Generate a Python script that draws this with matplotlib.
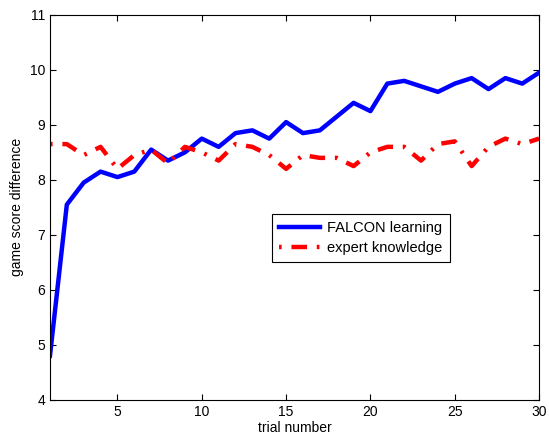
import numpy as np
import matplotlib
matplotlib.use("Agg")
import matplotlib.pyplot as plt

plt.rcParams['font.family'] = ['Liberation Sans', 'DejaVu Sans']

# data
percobaan = list(range(1, 31))
falcon = [4.8, 7.55, 7.95, 8.15, 8.05, 8.15, 8.55, 8.35, 8.5, 8.75,
          8.6, 8.85, 8.9, 8.75, 9.05, 8.85, 8.9, 9.15, 9.4, 9.25,
          9.75, 9.8, 9.7, 9.6, 9.75, 9.85, 9.65, 9.85, 9.75, 9.95]
pakar = [8.65, 8.65, 8.45, 8.6, 8.2, 8.45, 8.55, 8.3, 8.6, 8.5,
         8.35, 8.65, 8.6, 8.45, 8.2, 8.45, 8.4, 8.4, 8.25, 8.5,
         8.6, 8.6, 8.35, 8.65, 8.7, 8.25, 8.6, 8.75, 8.65, 8.75]
label_x = [5, 10, 15, 20, 25, 30]
label_y = [4, 5, 6, 7, 8, 9, 10, 11]

fig = plt.figure(figsize=(5.49, 4.37), dpi=100)
ax = fig.add_axes([0.091, 0.085, 0.891, 0.881])

ax.plot(percobaan, falcon, color='#0000ff', linewidth=3.2, label='FALCON learning')
ax.plot(percobaan, pakar, color='#ff0000', linewidth=3.2, dashes=(0.6, 2.2, 3.5, 2.2),
        label='expert knowledge')

ax.set_xlim(1, 30)
ax.set_ylim(4, 11)
ax.set_xticks(label_x)
ax.set_yticks(label_y)
ax.tick_params(direction='in', top=True, right=True, labelsize=10, length=4)
ax.set_xlabel('trial number', fontsize=10, labelpad=2)
ax.set_ylabel('game score difference', fontsize=10, labelpad=4)

leg = ax.legend(loc='lower left', bbox_to_anchor=(0.454, 0.358), fontsize=10.5,
                fancybox=False, edgecolor='black', framealpha=1,
                handlelength=2.8, handletextpad=0.5, borderpad=0.5,
                labelspacing=0.4, borderaxespad=0)
leg.get_frame().set_linewidth(0.8)

plt.savefig('out.png', dpi=100)
